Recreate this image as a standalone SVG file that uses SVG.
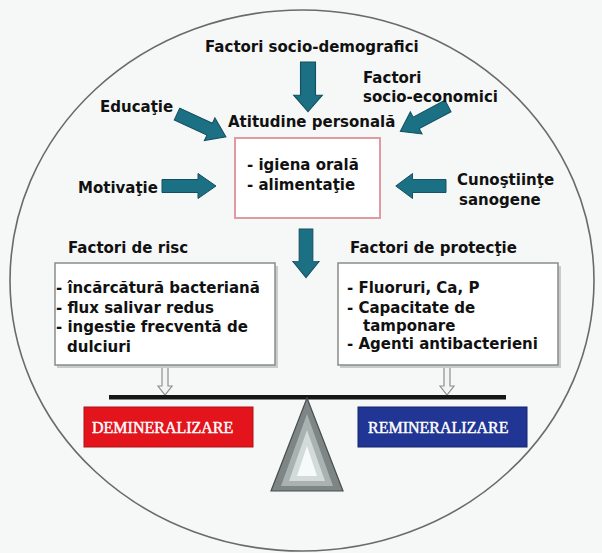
<svg xmlns="http://www.w3.org/2000/svg" width="602" height="553" viewBox="0 0 602 553">
<style>
.t{font-family:"DejaVu Sans","Liberation Sans",sans-serif;font-weight:bold;font-size:15px;fill:#111}
.bt{font-family:"Liberation Serif","DejaVu Serif",serif;font-size:16px;fill:#ffffff;stroke:#ffffff;stroke-width:0.45}
.arr{fill:#1c7084;stroke:#134f5e;stroke-width:1}
.box{fill:#ffffff;stroke:#8a8c8c;stroke-width:1.5}
.shadow{fill:#c9cccc}
.hol{fill:#f4f4f4;stroke:#8d8f8f;stroke-width:1.2}
</style>
<defs>
<path id="blk" d="M0,-6.5 L36,-6.5 L36,-12.5 L54,0 L36,12.5 L36,6.5 L0,6.5 Z"/>
<path id="hol" d="M-3,0 L3,0 L3,20 L7,20 L0,29 L-7,20 L-3,20 Z"/>
</defs>
<rect width="602" height="553" fill="#f6f8f8"/>
<ellipse cx="302" cy="280.5" rx="292" ry="270.5" fill="none" stroke="#6a6a6a" stroke-width="1.6"/>

<g id="connectors">
<use href="#blk" class="arr" transform="translate(308,62) rotate(90) scale(0.92,1.15)"/>
<use href="#blk" class="arr" transform="translate(177,114) rotate(25)"/>
<use href="#blk" class="arr" transform="translate(448,106) rotate(152)"/>
<use href="#blk" class="arr" transform="translate(162,186)"/>
<use href="#blk" class="arr" transform="translate(446,186) rotate(180) scale(0.93,1)"/>
<use href="#blk" class="arr" transform="translate(306,229) rotate(90) scale(0.9,1.05)"/>
<use href="#hol" class="hol" transform="translate(165,366)"/>
<use href="#hol" class="hol" transform="translate(447,366)"/>
</g>

<g id="socio-demografici"><text class="t" x="205" y="52">Factori socio-demografici</text></g>
<g id="socio-economici"><text class="t" x="363" y="83">Factori</text><text class="t" x="363" y="102">socio-economici</text></g>
<g id="educatie"><text class="t" x="100" y="112">Educaţie</text></g>
<g id="atitudine"><text class="t" x="228" y="127">Atitudine personală</text></g>
<g id="comportament">
<rect x="235" y="138" width="145" height="80" fill="#ffffff" stroke="#e29aa2" stroke-width="2"/>
<text class="t" x="247" y="170">- igiena orală</text>
<text class="t" x="247" y="190">- alimentaţie</text>
</g>
<g id="motivatie"><text class="t" x="78" y="193">Motivaţie</text></g>
<g id="cunostiinte"><text class="t" x="457" y="185">Cunoştiinţe</text><text class="t" x="459" y="205">sanogene</text></g>

<g id="factori-risc">
<text class="t" x="68" y="253">Factori de risc</text>
<rect class="shadow" x="57" y="266" width="221" height="102"/>
<rect class="box" x="55" y="263" width="220" height="102"/>
<text class="t" x="56" y="293">- încărcătură bacteriană</text>
<text class="t" x="56" y="313">- flux salivar redus</text>
<text class="t" x="56" y="332">- ingestie frecventă de</text>
<text class="t" x="67" y="352">dulciuri</text>
</g>

<g id="factori-protectie">
<text class="t" x="350" y="253">Factori de protecţie</text>
<rect class="shadow" x="340" y="266" width="221" height="102"/>
<rect class="box" x="338" y="263" width="220" height="102"/>
<text class="t" x="347" y="293">- Fluoruri, Ca, P</text>
<text class="t" x="347" y="313">- Capacitate de</text>
<text class="t" x="363" y="331">tamponare</text>
<text class="t" x="347" y="349">- Agenti antibacterieni</text>
</g>

<g id="balanta">
<rect x="109" y="395" width="397" height="4.5" fill="#161616"/>
<polygon points="307,398 271,491 343,491" fill="#7d8585" stroke="#4a4e4e" stroke-width="1.2"/>
<polygon points="307,414 281,486 333,486" fill="#a9b1b1"/>
<polygon points="307,430 289,481 325,481" fill="#d3dada"/>
<polygon points="307,446 297,476 317,476" fill="#f7fafa"/>
</g>

<g id="demineralizare">
<rect x="84" y="407" width="169" height="40" fill="#e3141c" stroke="#b01016" stroke-width="1"/>
<text class="bt" x="92" y="433">DEMINERALIZARE</text>
</g>
<g id="remineralizare">
<rect x="358" y="407" width="169" height="40" fill="#203594" stroke="#15246a" stroke-width="1"/>
<text class="bt" x="368" y="433">REMINERALIZARE</text>
</g>
</svg>
